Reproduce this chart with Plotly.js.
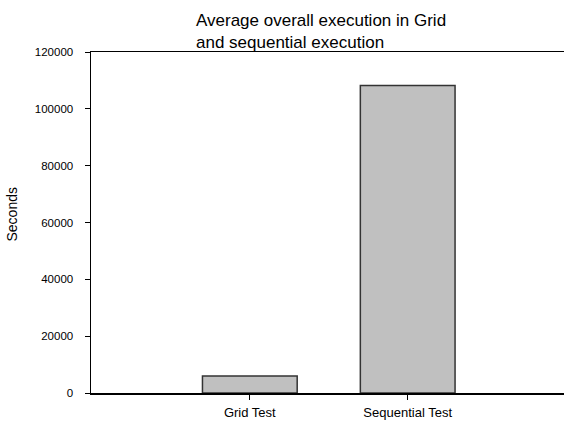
<!DOCTYPE html>
<html>
<head>
<meta charset="utf-8">
<script src="https://cdn.plot.ly/plotly-3.0.1.min.js"></script>
<style>html,body{margin:0;padding:0;background:#fff;}</style>
</head>
<body>
<div id="chart" style="width:564px;height:427px;"></div>
<script>
const categories = ["Grid Test", "Sequential Test"];
const seconds = [6000, 108200];
const yTicks = [0, 20000, 40000, 60000, 80000, 100000, 120000];
const yLabel = "Seconds";
const titleText = "Average overall execution in Grid<br>and sequential execution";

const trace = {
  type: "bar",
  x: categories,
  y: seconds,
  width: 0.6,
  marker: {color: "#c0c0c0", line: {color: "#333333", width: 1.5}},
  hoverinfo: "x+y"
};

const layout = {
  width: 564,
  height: 427,
  margin: {l: 91, r: 0, t: 52, b: 34},
  paper_bgcolor: "#ffffff",
  plot_bgcolor: "#ffffff",
  showlegend: false,
  font: {family: "Liberation Sans, Arial, sans-serif", color: "#000000"},
  title: {
    text: titleText,
    font: {size: 17, color: "#000000"},
    xref: "container", x: 196/564, xanchor: "left",
    yref: "container", y: 0.94, yanchor: "top"
  },
  xaxis: {
    type: "category",
    range: [-1.006, 1.99],
    showline: true, linecolor: "#000000", linewidth: 1.5,
    mirror: true,
    ticks: "outside", ticklen: 5, tickcolor: "#000000", tickwidth: 1,
    showgrid: false, zeroline: false,
    tickfont: {size: 13, color: "#000000"},
    ticklabelstandoff: 2
  },
  yaxis: {
    range: [0, 120000],
    tickvals: yTicks,
    ticktext: yTicks.map(String),
    showline: true, linecolor: "#000000", linewidth: 1.5,
    ticks: "outside", ticklen: 5, tickcolor: "#000000", tickwidth: 1,
    showgrid: false, zeroline: false,
    tickfont: {size: 11.5, color: "#000000"},
    ticklabelstandoff: 9
  },
  annotations: [{
    text: yLabel,
    xref: "paper", yref: "paper",
    x: (11.5 - 91) / 473, y: (393 - 215) / 341,
    xanchor: "center", yanchor: "middle",
    textangle: -90, showarrow: false,
    font: {size: 14, color: "#000000"}
  }]
};

Plotly.newPlot("chart", [trace], layout, {displayModeBar: false, staticPlot: true});
</script>
</body>
</html>
